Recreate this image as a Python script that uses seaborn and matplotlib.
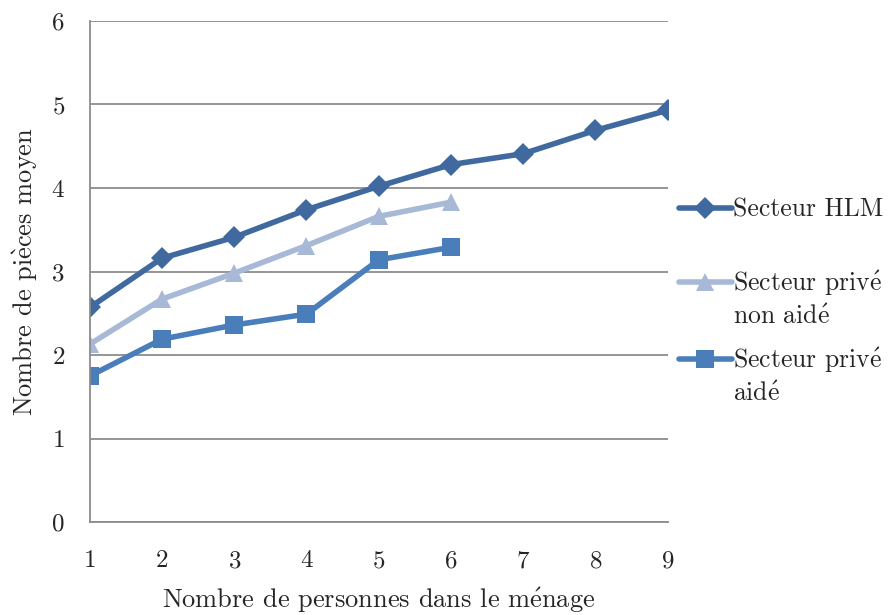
import matplotlib
matplotlib.use('Agg')
import matplotlib.pyplot as plt
import numpy as np
import pandas as pd
import seaborn as sns

# data
personnes = [1, 2, 3, 4, 5, 6, 7, 8, 9]
hlm = [2.57, 3.16, 3.41, 3.74, 4.02, 4.28, 4.41, 4.69, 4.93]
prive_non_aide = [2.13, 2.67, 2.98, 3.31, 3.66, 3.83]
prive_aide = [1.75, 2.19, 2.36, 2.49, 3.14, 3.29]

# accents drawn through mathtext so everything stays in Computer Modern
E_AIGU = r"$\mathrm{\acute{e}}$"
E_GRAVE = r"$\mathrm{\grave{e}}$"
labels = ["Secteur HLM", "Secteur priv" + E_AIGU + " ", "Secteur priv" + E_AIGU]
suites = [None, "non aid" + E_AIGU, "aid" + E_AIGU]   # second line of legend labels
series = [hlm, prive_non_aide, prive_aide]

frames = []
for lab, vals in zip(labels, series):
    frames.append(pd.DataFrame({'x': personnes[:len(vals)], 'y': vals, 'serie': lab}))
data = pd.concat(frames, ignore_index=True)

sns.set_style('white')
plt.rcParams['font.family'] = ['cmr10', 'DejaVu Serif']
plt.rcParams['mathtext.fontset'] = 'cm'
plt.rcParams['axes.formatter.use_mathtext'] = True

palette = {labels[0]: '#3F699F', labels[1]: '#A7B9D7', labels[2]: '#4A7EBB'}
markers = {labels[0]: 'D', labels[1]: '^', labels[2]: 's'}
msize = {labels[0]: 11.5, labels[1]: 13, labels[2]: 13}

fig = plt.figure(figsize=(8.89, 6.15), dpi=100)
ax = fig.add_axes([0.101, 0.151, 0.650, 0.815])

for lab in labels:
    sub = data[data['serie'] == lab]
    sns.lineplot(x='x', y='y', data=sub, ax=ax, color=palette[lab], marker=markers[lab],
                 markersize=msize[lab], markeredgewidth=0, linewidth=4, label=lab)

ax.set_xlim(1, 9)
ax.set_ylim(0, 6)
ax.set_xticks(personnes)
ax.set_yticks(range(0, 7))
ax.grid(axis='y', color='#8c8c8c', linewidth=1.3)
ax.grid(axis='x', visible=False)
for s in ['top', 'right']:
    ax.spines[s].set_visible(False)
for s in ['left', 'bottom']:
    ax.spines[s].set_color('#8c8c8c')
    ax.spines[s].set_linewidth(1.3)
ax.tick_params(axis='both', which='major', direction='out', length=8, width=1.3,
               color='#8c8c8c', labelsize=18, pad=12)
ax.tick_params(axis='y', pad=10)
ax.set_xlabel("Nombre de personnes dans le m" + E_AIGU + "nage", fontsize=19, labelpad=10)
ax.set_ylabel("Nombre de pi" + E_GRAVE + "ces moyen", fontsize=19, labelpad=8)

leg = ax.legend(loc='center left', bbox_to_anchor=(0.995, 0.47), frameon=False, fontsize=18.5,
                labelspacing=1.85, handlelength=2.05, handletextpad=0.05, borderaxespad=0.15)

# second lines of the multi-line labels, under the first line
fig.canvas.draw()
H = fig.bbox.height
for txt, suite in zip(leg.get_texts(), suites):
    if suite is None:
        continue
    bb = txt.get_window_extent()
    yc = (bb.y0 + bb.y1) / 2 - 33
    fig.text(bb.x0 / fig.bbox.width, yc / H, suite, fontsize=18.5, va='center', ha='left')

fig.savefig('out.png', dpi=100)
